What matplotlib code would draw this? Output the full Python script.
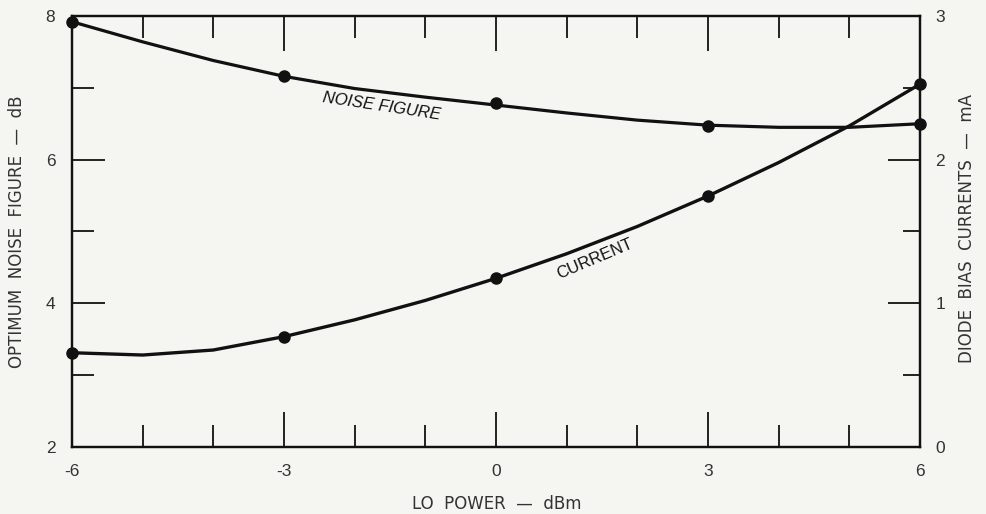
import matplotlib
matplotlib.use("Agg")
import matplotlib.pyplot as plt
from matplotlib.ticker import FixedLocator

# measured points (LO power in dBm)
lo_power = [-6, -3, 0, 3, 6]
noise_figure_pts = [7.92, 7.16, 6.79, 6.47, 6.50]      # dB, left axis
bias_current_pts = [0.656, 0.768, 1.174, 1.747, 2.526]  # mA, right axis

curve_power = [-6, -5, -4, -3, -2, -1, 0, 1, 2, 3, 4, 5, 6]
noise_figure_curve = [7.92, 7.64, 7.38, 7.16, 6.99, 6.87, 6.76, 6.65, 6.55, 6.48, 6.45, 6.45, 6.50]
bias_current_curve = [0.656, 0.640, 0.675, 0.768, 0.885, 1.020, 1.174, 1.345, 1.535, 1.747, 1.980, 2.235, 2.526]

x_major = [-6, -3, 0, 3, 6]
x_minor = [-5, -4, -2, -1, 1, 2, 4, 5]
nf_major = [2, 4, 6, 8]
nf_minor = [3, 5, 7]
ma_major = [0, 1, 2, 3]
ma_minor = [0.5, 1.5, 2.5]

BG = "#f5f5f2"
INK = "#111111"
TXT = "#333333"


def main():
    plt.rcParams["font.family"] = ["Liberation Sans", "DejaVu Sans"]
    plt.rcParams["axes.unicode_minus"] = False
    fig = plt.figure(figsize=(9.86, 5.14), dpi=100, facecolor=BG)
    ax = fig.add_axes([0.0730, 0.1304, 0.8601, 0.8385])
    ax.set_facecolor(BG)
    ax2 = ax.twinx()

    ax.set_xlim(-6, 6)
    ax.set_ylim(2, 8)
    ax2.set_ylim(0, 3)

    # curves and points
    ax.plot(curve_power, noise_figure_curve, color=INK, lw=2.3, solid_capstyle="round", clip_on=False)
    ax.plot(lo_power, noise_figure_pts, "o", color=INK, ms=8, clip_on=False)
    ax2.plot(curve_power, bias_current_curve, color=INK, lw=2.4, solid_capstyle="round", clip_on=False)
    ax2.plot(lo_power, bias_current_pts, "o", color=INK, ms=8, clip_on=False)

    # spines
    for a in (ax, ax2):
        for s in a.spines.values():
            s.set_linewidth(1.6)
            s.set_color(INK)

    # ticks, all pointing inward
    ax.xaxis.set_major_locator(FixedLocator(x_major))
    ax.xaxis.set_minor_locator(FixedLocator(x_minor))
    ax.yaxis.set_major_locator(FixedLocator(nf_major))
    ax.yaxis.set_minor_locator(FixedLocator(nf_minor))
    ax2.yaxis.set_major_locator(FixedLocator(ma_major))
    ax2.yaxis.set_minor_locator(FixedLocator(ma_minor))

    ax.tick_params(axis="x", which="major", direction="in", length=25, width=1.3,
                   top=True, bottom=True, pad=12, labelsize=12.5, labelcolor=TXT, color=INK)
    ax.tick_params(axis="x", which="minor", direction="in", length=16, width=1.3,
                   top=True, bottom=True, color=INK)
    ax.tick_params(axis="y", which="major", direction="in", length=24, width=1.3,
                   right=False, pad=12, labelsize=12.5, labelcolor=TXT, color=INK)
    ax.tick_params(axis="y", which="minor", direction="in", length=16, width=1.3,
                   right=False, color=INK)
    ax2.tick_params(axis="y", which="major", direction="in", length=23, width=1.3,
                    pad=11, labelsize=12.5, labelcolor=TXT, color=INK)
    ax2.tick_params(axis="y", which="minor", direction="in", length=12, width=1.3, color=INK)

    # curve labels
    ax.text(-1.62, 6.74, "NOISE FIGURE", rotation=-8.5, fontsize=12, style="italic",
            color=INK, ha="center", va="center")
    ax.text(1.40, 4.62, "CURRENT", rotation=23, fontsize=12, color=INK,
            ha="center", va="center")

    # axis titles
    title_font = ["DejaVu Sans"]
    fig.text(0.504, 0.020, "LO  POWER  \u2014  dBm", fontsize=12, color=TXT, family=title_font,
             ha="center", va="center")
    fig.text(0.017, 0.549, "OPTIMUM  NOISE  FIGURE  \u2014  dB", fontsize=12, color=TXT,
             family=title_font, rotation=90, ha="center", va="center")
    fig.text(0.981, 0.555, "DIODE  BIAS  CURRENTS  \u2014  mA", fontsize=12, color=TXT,
             family=title_font, rotation=90, ha="center", va="center")

    fig.savefig("out.png", dpi=100, facecolor=BG)


if __name__ == "__main__":
    main()
